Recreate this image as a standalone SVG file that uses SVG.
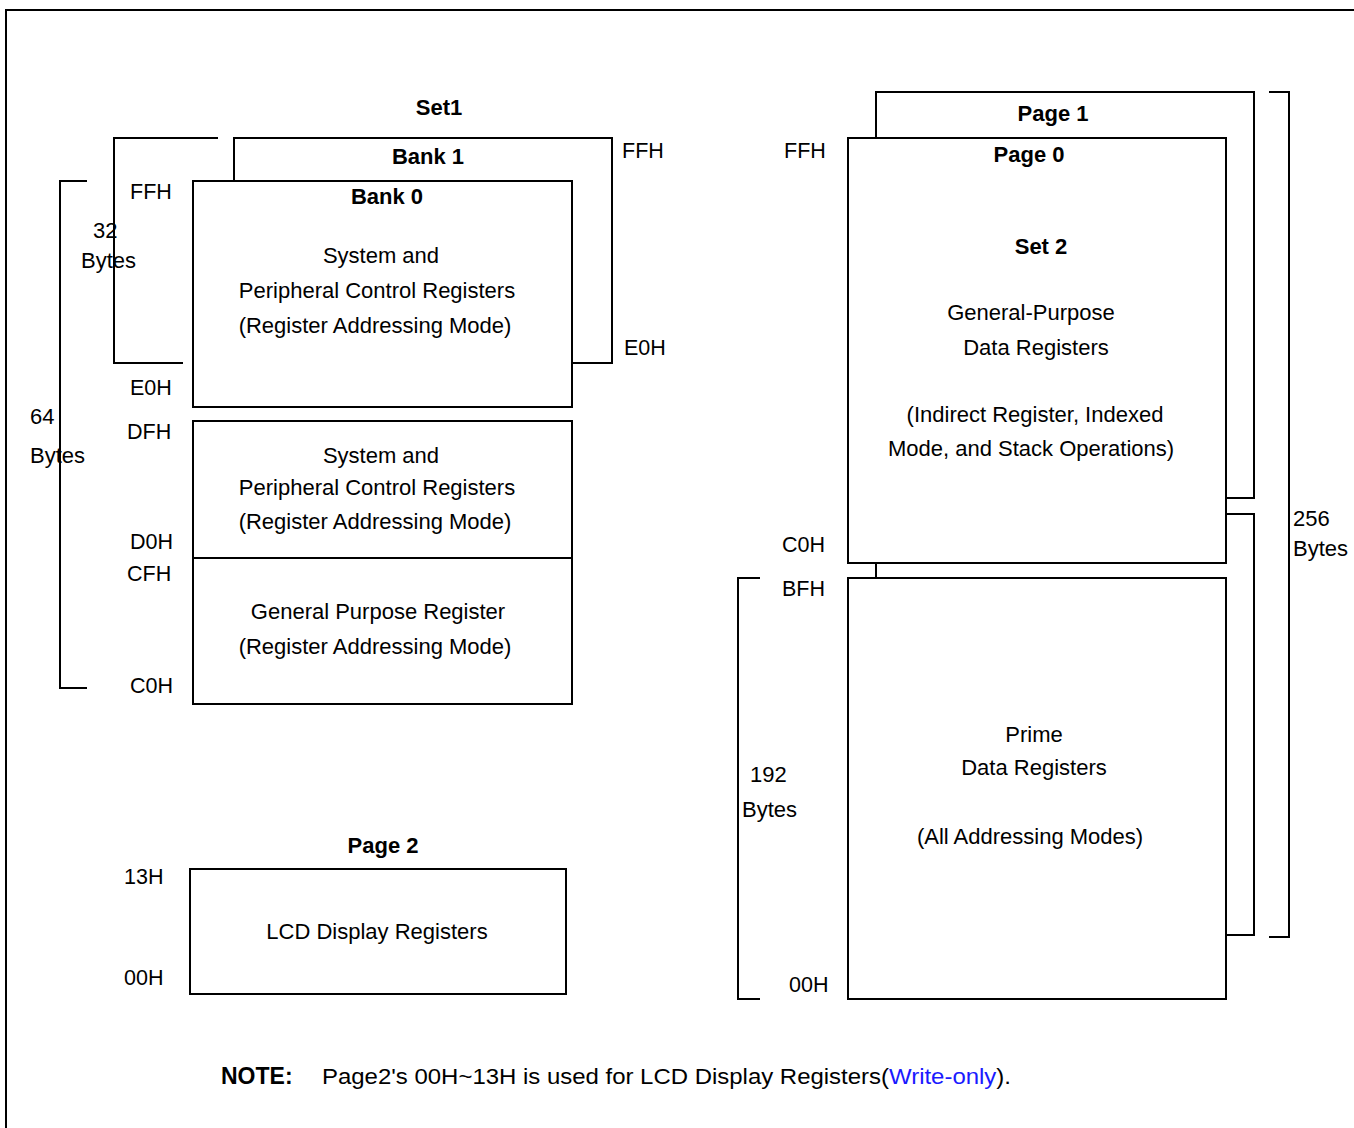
<svg xmlns="http://www.w3.org/2000/svg" width="1354" height="1128" viewBox="0 0 1354 1128">
<style>
text{font-family:"Liberation Sans",Arial,sans-serif;font-size:22px;fill:#000}
.h{font-size:21.5px}
.b{font-weight:bold}
.c{text-anchor:middle}
.box{fill:#fff;stroke:#000;stroke-width:2}
.ln{fill:none;stroke:#000;stroke-width:2}
.blue{fill:#1a1aff}
</style>
<rect width="1354" height="1128" fill="#fff"/>
<path class="ln" d="M6,1128 V10 H1354"/>

<g id="connectors">
<path class="ln" d="M87,181 H60 V688 H87"/>
<path class="ln" d="M218,138 H114 V363 H183"/>
<path class="ln" d="M876,563 V578"/>
<path class="ln" d="M760,578 H738 V999 H760"/>
<path class="ln" d="M1269,92 H1289 V937 H1269"/>
</g>

<g id="set1-bank1">
<path class="ln" d="M234,181 V138 H612 V363 H572"/>
<text class="b c" x="428" y="164">Bank 1</text>
</g>
<g id="set1-bank0">
<rect class="box" x="193" y="181" width="379" height="226"/>
<text class="b c" x="387" y="204">Bank 0</text>
<text class="c" x="381" y="263">System and</text>
<text class="c" x="377" y="298">Peripheral Control Registers</text>
<text class="c" x="375" y="333">(Register Addressing Mode)</text>
</g>
<g id="set1-d0">
<rect class="box" x="193" y="421" width="379" height="137"/>
<text class="c" x="381" y="463">System and</text>
<text class="c" x="377" y="495">Peripheral Control Registers</text>
<text class="c" x="375" y="529">(Register Addressing Mode)</text>
</g>
<g id="set1-c0">
<rect class="box" x="193" y="558" width="379" height="146"/>
<text class="c" x="378" y="619">General Purpose Register</text>
<text class="c" x="375" y="654">(Register Addressing Mode)</text>
</g>
<g id="labels-left">
<text class="b c" x="439" y="115">Set1</text>
<text class="h" x="130" y="199">FFH</text>
<text class="h" x="622" y="158">FFH</text>
<text class="h" x="624" y="355">E0H</text>
<text class="h" x="130" y="395">E0H</text>
<text class="h" x="127" y="439">DFH</text>
<text class="h" x="130" y="549">D0H</text>
<text class="h" x="127" y="581">CFH</text>
<text class="h" x="130" y="693">C0H</text>
<text x="93" y="238">32</text>
<text x="81" y="268">Bytes</text>
<text x="30" y="424">64</text>
<text x="30" y="463">Bytes</text>
</g>

<g id="page2">
<text class="b c" x="383" y="853">Page 2</text>
<rect class="box" x="190" y="869" width="376" height="125"/>
<text class="c" x="377" y="939">LCD Display Registers</text>
<text class="h" x="124" y="884">13H</text>
<text class="h" x="124" y="985">00H</text>
</g>

<g id="page1">
<path class="ln" d="M876,138 V92 H1254 V498 H1226"/>
<path class="ln" d="M1226,514 H1254 V935 H1226"/>
<text class="b c" x="1053" y="121">Page 1</text>
</g>
<g id="page0-set2">
<rect class="box" x="848" y="138" width="378" height="425"/>
<text class="b c" x="1029" y="162">Page 0</text>
<text class="b c" x="1041" y="254">Set 2</text>
<text class="c" x="1031" y="320">General-Purpose</text>
<text class="c" x="1036" y="355">Data Registers</text>
<text class="c" x="1035" y="422">(Indirect Register, Indexed</text>
<text class="c" x="1031" y="456">Mode, and Stack Operations)</text>
</g>
<g id="prime">
<rect class="box" x="848" y="578" width="378" height="421"/>
<text class="c" x="1034" y="742">Prime</text>
<text class="c" x="1034" y="775">Data Registers</text>
<text class="c" x="1030" y="844">(All Addressing Modes)</text>
</g>
<g id="labels-right">
<text class="h" x="784" y="158">FFH</text>
<text class="h" x="782" y="552">C0H</text>
<text class="h" x="782" y="596">BFH</text>
<text class="h" x="789" y="992">00H</text>
<text x="750" y="782">192</text>
<text x="742" y="817">Bytes</text>
<text x="1293" y="526">256</text>
<text x="1293" y="556">Bytes</text>
</g>

<g id="note">
<text class="b" x="221" y="1084" style="font-size:23px">NOTE:</text>
<text x="322" y="1084" textLength="689" lengthAdjust="spacingAndGlyphs">Page2's 00H~13H is used for LCD Display Registers(<tspan class="blue">Write-only</tspan>).</text>
</g>
</svg>
